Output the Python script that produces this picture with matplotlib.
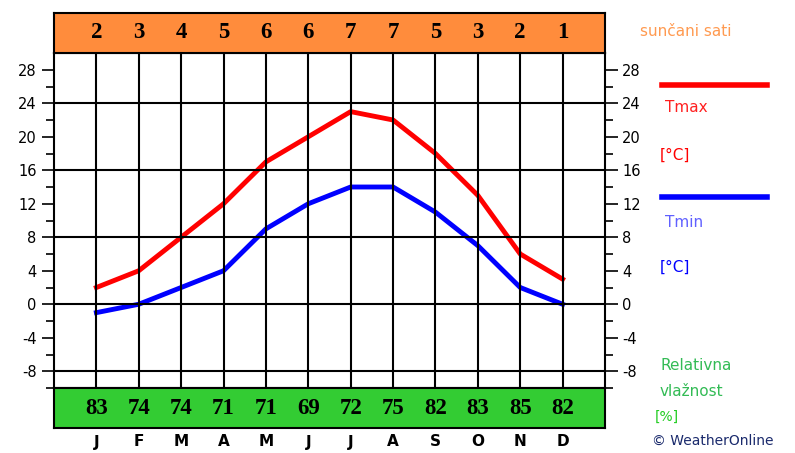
import matplotlib.pyplot as plt
import numpy as np

plt.rcParams["axes.unicode_minus"] = False

months = ["J", "F", "M", "A", "M", "J", "J", "A", "S", "O", "N", "D"]
tmax = [2, 4, 8, 12, 17, 20, 23, 22, 18, 13, 6, 3]
tmin = [-1, 0, 2, 4, 9, 12, 14, 14, 11, 7, 2, 0]
sun_hours = [2, 3, 4, 5, 6, 6, 7, 7, 5, 3, 2, 1]
humidity = [83, 74, 74, 71, 71, 69, 72, 75, 82, 83, 85, 82]

x = np.arange(1, 13)
W, H = 795, 453
fig = plt.figure(figsize=(W / 100, H / 100), dpi=100)

L, R = 54 / W, 605 / W
ax = fig.add_axes([L, 1 - 388 / H, R - L, (388 - 53) / H])
top = fig.add_axes([L, 1 - 53 / H, R - L, 40 / H])
bot = fig.add_axes([L, 1 - 428 / H, R - L, 40 / H])

ax.plot(x, tmax, color="#ff0000", lw=3.5)
ax.plot(x, tmin, color="#0000ff", lw=3.5)
ax.set_xlim(0, 13)
ax.set_ylim(-10, 30)
ax.set_xticks(x)
ax.set_xticklabels([])
ax.tick_params(axis="x", length=0)
ax.set_yticks(np.arange(-8, 29, 4))
ax.set_yticks(np.arange(-10, 30, 2), minor=True)
ax.tick_params(axis="y", which="both", left=True, right=True, labelleft=True,
               labelright=True, labelsize=10.5, direction="out")
ax.tick_params(axis="y", which="major", length=9, width=1.2)
ax.tick_params(axis="y", which="minor", length=6, width=1.2)
for xi in x:
    ax.axvline(xi, color="black", lw=1.5)
for yi in [-8, 0, 8, 16, 24]:
    ax.axhline(yi, color="black", lw=1.5)
for s in ax.spines.values():
    s.set_linewidth(1.5)

for a, vals, col in [(top, sun_hours, "#ff8c3c"), (bot, humidity, "#33cc33")]:
    a.set_facecolor(col)
    a.set_xlim(0, 13)
    a.set_ylim(0, 1)
    a.set_xticks([])
    a.set_yticks([])
    for s in a.spines.values():
        s.set_linewidth(1.5)
    for xi, v in zip(x, vals):
        a.text(xi, 0.5, str(v), ha="center", va="center", fontsize=16.5,
               fontweight="bold", family="Liberation Serif")

for xi, m in zip(x, months):
    bot.text(xi, -0.35, m, ha="center", va="center", fontsize=11, fontweight="bold")

fig.text(640 / W, 1 - 31 / H, "sunčani sati", color="#ff9a50", fontsize=11, va="center")
fig.add_artist(plt.Line2D([662 / W, 767 / W], [1 - 85 / H] * 2, color="#ff0000", lw=4))
fig.text(665 / W, 1 - 108 / H, "Tmax", color="#ff2020", fontsize=11, va="center")
fig.text(660 / W, 1 - 155 / H, "[°C]", color="#ff0000", fontsize=11, va="center")
fig.add_artist(plt.Line2D([662 / W, 767 / W], [1 - 197 / H] * 2, color="#0000ff", lw=4))
fig.text(665 / W, 1 - 222 / H, "Tmin", color="#6060ff", fontsize=11, va="center")
fig.text(660 / W, 1 - 267 / H, "[°C]", color="#0000ff", fontsize=11, va="center")
fig.text(660 / W, 1 - 365 / H, "Relativna", color="#33bb55", fontsize=11, va="center")
fig.text(660 / W, 1 - 391 / H, "vlažnost", color="#33bb55", fontsize=11, va="center")
fig.text(655 / W, 1 - 417 / H, "[%]", color="#22cc22", fontsize=10, va="center")
fig.text(652 / W, 1 - 441 / H, "© WeatherOnline", color="#1a2a6c", fontsize=10, va="center")

fig.savefig("out.png", dpi=100)
